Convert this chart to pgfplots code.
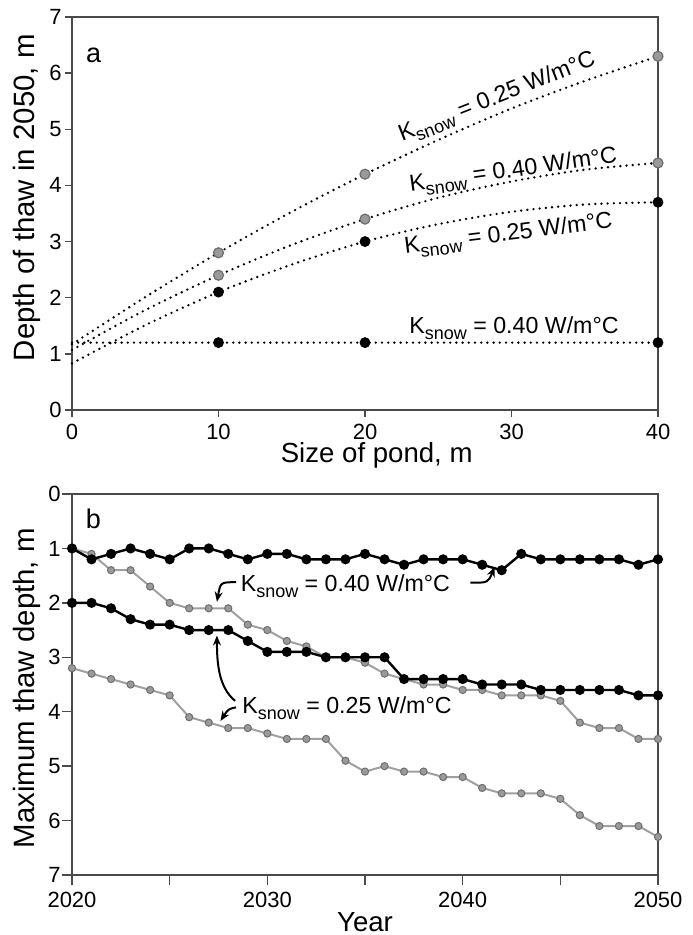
\documentclass[border=0pt]{standalone}
\usepackage{fontspec}
\setmainfont{Liberation Sans}
\usepackage{pgfplots}
\pgfplotsset{compat=1.18}
\usetikzlibrary{arrows.meta}
\definecolor{gfill}{HTML}{9A9A9A}
\definecolor{gedge}{HTML}{6E6E6E}
\definecolor{gline}{HTML}{A0A0A0}
\definecolor{axcol}{HTML}{4A4A4A}
\newcommand\Ks{K\raisebox{-3pt}{\fontsize{9}{9}\selectfont snow}}
\newcommand\annfont{\fontsize{11.6}{13}\selectfont}

\pgfplotstableread{
year b40 g40 b25 g25
2020 1.0 1.0 2.0 3.2
2021 1.2 1.1 2.0 3.3
2022 1.1 1.4 2.1 3.4
2023 1.0 1.4 2.3 3.5
2024 1.1 1.7 2.4 3.6
2025 1.2 2.0 2.4 3.7
2026 1.0 2.1 2.5 4.1
2027 1.0 2.1 2.5 4.2
2028 1.1 2.1 2.5 4.3
2029 1.2 2.4 2.7 4.3
2030 1.1 2.5 2.9 4.4
2031 1.1 2.7 2.9 4.5
2032 1.2 2.8 2.9 4.5
2033 1.2 3.0 3.0 4.5
2034 1.2 3.0 3.0 4.9
2035 1.1 3.1 3.0 5.1
2036 1.2 3.3 3.0 5.0
2037 1.3 3.4 3.4 5.1
2038 1.2 3.5 3.4 5.1
2039 1.2 3.5 3.4 5.2
2040 1.2 3.6 3.4 5.2
2041 1.3 3.6 3.5 5.4
2042 1.4 3.7 3.5 5.5
2043 1.1 3.7 3.5 5.5
2044 1.2 3.7 3.6 5.5
2045 1.2 3.8 3.6 5.6
2046 1.2 4.2 3.6 5.9
2047 1.2 4.3 3.6 6.1
2048 1.2 4.3 3.6 6.1
2049 1.3 4.5 3.7 6.1
2050 1.2 4.5 3.7 6.3
}\timeseries

\begin{document}
\begin{tikzpicture}
\path[use as bounding box] (-36pt,8.5pt) rectangle (310pt,-459pt);
\pgfplotsset{
  common/.style={
    scale only axis,
    width=293pt,
    axis line style={axcol, line width=0.75pt},
    every tick/.style={axcol, line width=0.75pt},
    tick align=outside,
    tick pos=left,
    major tick length=3.5pt,
    /pgf/number format/assume math mode=true,
    tick label style={font=\fontsize{11}{13}\selectfont},
    xlabel style={font=\fontsize{13.8}{16}\selectfont},
    ylabel style={font=\fontsize{14.7}{17}\selectfont},
    yticklabel style={inner sep=1.5pt},
    clip=false,
  },
  dots/.style={black, line width=1.3pt, line cap=round, dash pattern=on 0pt off 3.1pt, smooth},
  gmark/.style={only marks, mark=*, mark size=2.5pt, mark options={fill=gfill, draw=gedge, line width=0.6pt}},
  bmark/.style={only marks, mark=*, mark size=2.5pt, mark options={fill=black, draw=black}},
}
% ---------------- panel a ----------------
\begin{axis}[common, at={(0,0)}, anchor=north west, height=196.5pt,
  xmin=0, xmax=40, ymin=0, ymax=7,
  xtick={0,10,20,30,40}, ytick={0,1,2,3,4,5,6,7},
  xlabel={Size of pond, m}, ylabel={Depth of thaw in 2050, m},
  xlabel style={at={(axis description cs:0.52,-0.1145)}, anchor=center},
  ylabel style={at={(axis description cs:-0.0768,0.54)}, anchor=center},
]
\addplot[dots] coordinates {(0,1.17)(5,2.01)(10,2.8)(15,3.53)(20,4.2)(25,4.81)(30,5.37)(35,5.86)(40,6.3)};
\addplot[dots] coordinates {(0,1.07)(5,1.78)(10,2.4)(15,2.94)(20,3.4)(25,3.78)(30,4.07)(35,4.28)(40,4.4)};
\addplot[dots] coordinates {(0,0.83)(5,1.51)(10,2.1)(15,2.59)(20,3.0)(25,3.31)(30,3.53)(35,3.66)(40,3.7)};
\addplot[dots] coordinates {(0,1.2)(10,1.2)(20,1.2)(30,1.2)(40,1.2)};
\addplot[gmark] coordinates {(10,2.8)(20,4.2)(40,6.3)};
\addplot[gmark] coordinates {(10,2.4)(20,3.4)(40,4.4)};
\addplot[bmark] coordinates {(10,2.1)(20,3.0)(40,3.7)};
\addplot[bmark] coordinates {(10,1.2)(20,1.2)(40,1.2)};
\node[font=\fontsize{13.5}{16}\selectfont] at (axis cs:1.48,6.31) {a};
\node[font=\annfont, anchor=base west, rotate=21.5, inner sep=0pt] at (axis cs:22.5,4.78) {\Ks\ = 0.25 W/m°C};
\node[font=\annfont, anchor=base west, rotate=8, inner sep=0pt] at (axis cs:23.08,3.89) {\Ks\ = 0.40 W/m°C};
\node[font=\annfont, anchor=base west, rotate=7, inner sep=0pt] at (axis cs:22.73,2.79) {\Ks\ = 0.25 W/m°C};
\node[font=\annfont, anchor=base west, inner sep=0pt] at (axis cs:23.0,1.37) {\Ks\ = 0.40 W/m°C};
\end{axis}
% ---------------- panel b ----------------
\begin{axis}[common, at={(0,-238.5pt)}, anchor=north west, height=190.5pt,
  xmin=2020, xmax=2050, ymin=0, ymax=7, y dir=reverse,
  major tick length=5pt,
  yticklabel style={inner sep=0.5pt},
  xtick={2020,2025,2030,2035,2040,2045,2050},
  xticklabels={2020,,2030,,2040,,2050},
  ytick={0,1,2,3,4,5,6,7},
  xlabel={Year}, ylabel={Maximum thaw depth, m},
  xlabel style={at={(axis description cs:0.5,-0.1234)}, anchor=center},
  ylabel style={at={(axis description cs:-0.0768,0.49)}, anchor=center},
]
\addplot[gline, line width=1pt, mark=*, mark size=1.8pt, mark options={fill=gfill, draw=gedge, line width=0.5pt}] table[x=year, y=g40] {\timeseries};
\addplot[gline, line width=1pt, mark=*, mark size=1.8pt, mark options={fill=gfill, draw=gedge, line width=0.5pt}] table[x=year, y=g25] {\timeseries};
\addplot[black, line width=1.2pt, mark=*, mark size=1.9pt, mark options={fill=black}] table[x=year, y=b25] {\timeseries};
\addplot[black, line width=1.2pt, mark=*, mark size=1.9pt, mark options={fill=black}] table[x=year, y=b40] {\timeseries};
\node[font=\fontsize{13.5}{16}\selectfont] at (axis cs:2021.1,0.45) {b};
\node[font=\annfont, anchor=base west, inner sep=0pt] at (axis cs:2028.62,1.8) {\Ks\ = 0.40 W/m°C};
\node[font=\annfont, anchor=base west, inner sep=0pt] at (axis cs:2028.7,4.04) {\Ks\ = 0.25 W/m°C};
\draw[black, line width=1pt, -{Stealth[length=5pt,width=4pt]}] (axis cs:2028.4,1.62) .. controls (axis cs:2027.6,1.62) .. (axis cs:2027.42,1.98);
\draw[black, line width=1pt, -{Stealth[length=5pt,width=4pt]}] (axis cs:2040.4,1.63) .. controls (axis cs:2041.3,1.63) .. (axis cs:2041.64,1.34);
\draw[black, line width=1pt, -{Stealth[length=5pt,width=4pt]}] (axis cs:2028.35,3.8) .. controls (axis cs:2027.5,3.55) and (axis cs:2027.42,3.1) .. (axis cs:2027.42,2.6);
\draw[black, line width=1pt, -{Stealth[length=5pt,width=4pt]}] (axis cs:2028.4,3.92) .. controls (axis cs:2028.0,3.95) .. (axis cs:2027.6,4.17);
\end{axis}
\end{tikzpicture}
\end{document}
